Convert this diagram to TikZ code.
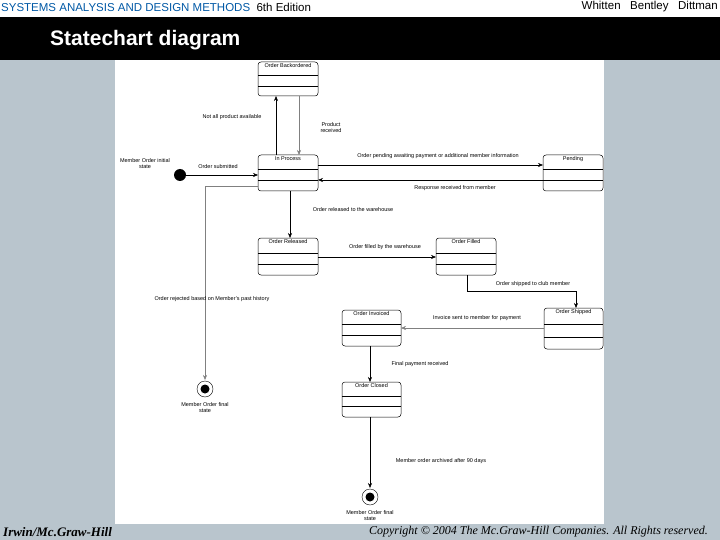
\documentclass[tikz,border=0pt]{standalone}
\usepackage{fontspec}
\setmainfont{Liberation Sans}
\newfontfamily\serifx{Liberation Serif}
\usetikzlibrary{arrows.meta}
\definecolor{bg}{HTML}{B9C5CD}
\begin{document}
\begin{tikzpicture}[x=1pt,y=-1pt,
  st/.style={draw,rounded corners=3pt,line width=0.5pt},
  lbl/.style={font=\fontsize{5.5}{6}\selectfont,inner sep=1pt},
  ttl/.style={font=\fontsize{5.5}{6}\selectfont,inner sep=0pt,anchor=north},
  ar/.style={-{Stealth[length=5pt,width=4pt]},line width=0.5pt},
  gar/.style={ar,draw=gray}]
\useasboundingbox (0,0) rectangle (720,540);
\fill[bg] (0,0) rectangle (720,540);
\fill[white] (0,0) rectangle (720,17);
\fill[black] (0,17) rectangle (720,60);
\fill[white] (115,60) rectangle (604,524);
\node[anchor=west,text=teal!70!blue,font=\fontsize{11.5}{12}\selectfont,inner sep=0] (h1) at (1,7) {SYSTEMS ANALYSIS AND DESIGN METHODS\ \ \textcolor{black}{6th Edition}};
\node[anchor=east,font=\fontsize{11.5}{12}\selectfont,inner sep=0] (h2) at (718,7) {Whitten\ \ \ Bentley\ \ \ Dittman};
\node[anchor=west,text=white,font=\bfseries\fontsize{21}{22}\selectfont,inner sep=0] (t) at (50,40) {Statechart diagram};
\node[anchor=west,font=\serifx\itshape\bfseries\fontsize{13}{14}\selectfont,inner sep=0] (f1) at (3,532) {Irwin/Mc.Graw-Hill};
\node[anchor=east,font=\serifx\itshape\fontsize{12}{13}\selectfont,inner sep=0] (f2) at (708,532) {Copyright © 2004 The Mc.Graw-Hill Companies. All Rights reserved.};
% states
\newcommand{\mystate}[6]{% name, x1,y1,x2,y2, title
  \draw[st] (#2,#3) rectangle (#4,#5);
  \coordinate (#1) at ({(#2+#4)/2},{(#3+#5)/2});
  \draw[line width=0.4pt] (#2,{#3+(#5-#3)*0.4}) -- (#4,{#3+(#5-#3)*0.4});
  \draw[line width=0.4pt] (#2,{#3+(#5-#3)*0.7}) -- (#4,{#3+(#5-#3)*0.7});
  \node[ttl] (#1t) at ({(#2+#4)/2},{#3+1.5}) {#6};}
\mystate{bo}{258}{62}{318}{96}{Order Backordered}
\mystate{ip}{258}{155}{318}{191}{In Process}
\mystate{pe}{543}{155}{603}{191}{Pending}
\mystate{re}{258}{238}{318}{275}{Order Released}
\mystate{fi}{436}{238}{496}{275}{Order Filled}
\mystate{sh}{544}{308}{603}{349}{Order Shipped}
\mystate{iv}{342}{310}{401}{346}{Order Invoiced}
\mystate{cl}{342}{382}{401}{417}{Order Closed}
% pseudo states
\fill (180,175) circle (6) coordinate (init);
\draw (205,389) circle (8); \fill (205,389) circle (4.5) coordinate (fin1);
\draw (370,497) circle (8); \fill (370,497) circle (4.5) coordinate (fin2);
\node[lbl,align=center] (il) at (145,164) {Member Order initial\\state};
\node[lbl,align=center] (f1l) at (205,408) {Member Order final\\state};
\node[lbl,align=center] (f2l) at (370,516) {Member Order final\\state};
% transitions
\draw[ar] (init) -- (258,175);
\node[lbl] at (218,167) {Order submitted};
\draw[ar] (276,155) -- (276,96);
\node[lbl] at (232,117) {Not all product available};
\draw[gar] (299,96) -- (299,155);
\node[lbl,align=center] at (331,128) {Product\\received};
\draw[ar] (318,165) -- (543,165);
\node[lbl] at (438,156) {Order pending awaiting payment or additional member  information};
\draw[ar] (543,180) -- (318,180);
\node[lbl] at (455,188) {Response received from member};
\draw[ar] (290,191) -- (290,238);
\node[lbl] at (353,210) {Order released to the warehouse};
\draw[ar] (318,257) -- (436,257);
\node[lbl] at (385,247) {Order filled by the warehouse};
\draw[ar] (467,275) -- (467,291) -- (576,291) -- (576,308);
\node[lbl] at (533,284) {Order shipped to club member};
\draw[gar] (544,328) -- (401,328);
\node[lbl] at (477,318) {Invoice sent to member for payment};
\draw[ar] (370,346) -- (370,382);
\node[lbl] at (420,364) {Final payment received};
\draw[ar] (370,417) -- (370,488);
\node[lbl] at (441,461) {Member order archived after 90 days};
\draw[gar] (258,186) -- (205,186) -- (205,380);
\node[lbl] at (212,299) {Order rejected based on  Member's past history};
\end{tikzpicture}
\end{document}
